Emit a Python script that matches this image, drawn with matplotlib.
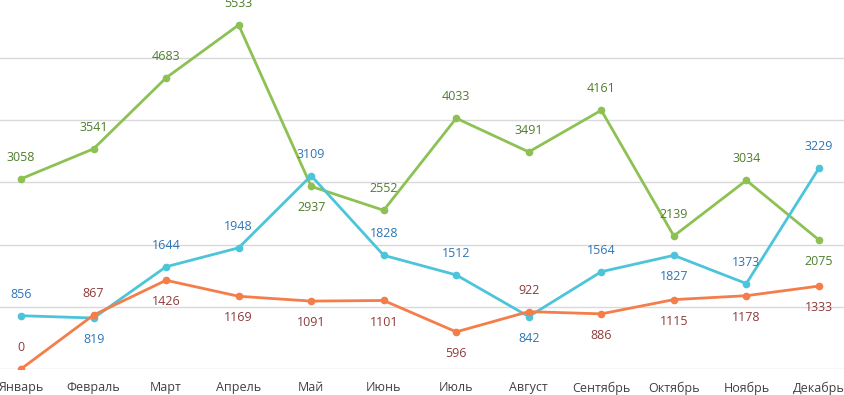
import matplotlib.pyplot as plt

months = ["Январь", "Февраль", "Март", "Апрель", "Май", "Июнь", "Июль",
          "Август", "Сентябрь", "Октябрь", "Ноябрь", "Декабрь"]
green = [3058, 3541, 4683, 5533, 2937, 2552, 4033, 3491, 4161, 2139, 3034, 2075]
blue = [856, 819, 1644, 1948, 3109, 1828, 1512, 842, 1564, 1827, 1373, 3229]
orange = [0, 867, 1426, 1169, 1091, 1101, 596, 922, 886, 1115, 1178, 1333]

# 1 = label above the point, -1 = below
green_pos = [1, 1, 1, 1, -1, 1, 1, 1, 1, 1, 1, -1]
blue_pos = [1, -1, 1, 1, 1, 1, 1, -1, 1, -1, 1, 1]
orange_pos = [1, 1, -1, -1, -1, -1, -1, 1, -1, -1, -1, -1]

plt.rcParams["font.family"] = ["Open Sans", "DejaVu Sans"]

fig = plt.figure(figsize=(8.45, 3.95), dpi=100, facecolor="white")
ax = fig.add_axes([0, 0.066, 1, 0.934])

x = list(range(len(months)))
series = [
    (green, green_pos, "#8dc153", "#4f7d2b"),
    (blue, blue_pos, "#4cc4da", "#2e75b6"),
    (orange, orange_pos, "#f47d4a", "#8e3b3b"),
]
for vals, pos, col, tcol in series:
    ax.plot(x, vals, color=col, lw=2.0, marker="o", ms=4.5, zorder=3)
    for xi, v, p in zip(x, vals, pos):
        ax.annotate(str(v), (xi, v), xytext=(0, 15.5 * p), textcoords="offset points",
                    ha="center", va="center", fontsize=9, color=tcol)

ax.set_xlim(-0.29, 11.36)
ax.set_ylim(0, 5935)
ax.set_yticks(range(0, 6000, 1000))
ax.yaxis.grid(True, color="#d9d9d9", lw=1.0)
ax.set_axisbelow(True)
for s in ax.spines.values():
    s.set_visible(False)
ax.tick_params(axis="y", left=False, labelleft=False)
ax.tick_params(axis="x", length=0, pad=9, labelsize=9, labelcolor="#404040")
ax.set_xticks(x)
ax.set_xticklabels(months)

fig.savefig("out.png", dpi=100, facecolor="white")
